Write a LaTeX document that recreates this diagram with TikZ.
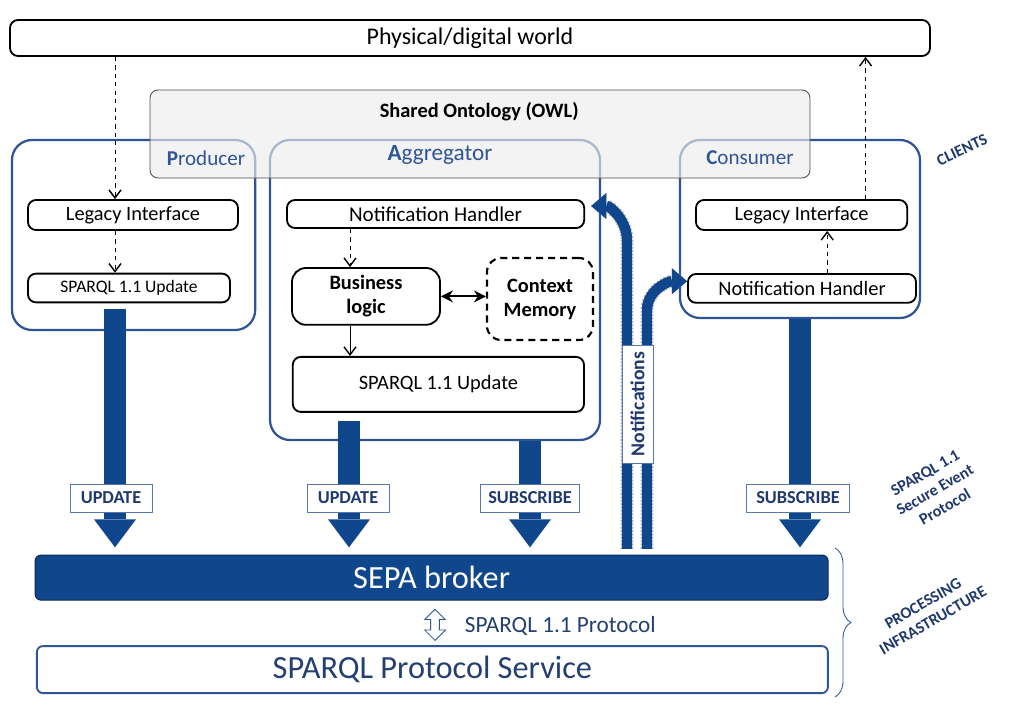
\documentclass[tikz,border=0pt]{standalone}
\usepackage{fontspec}
\setmainfont{Carlito}
\usetikzlibrary{positioning, arrows.meta, shapes, fit, decorations.pathreplacing}

\definecolor{clientblue}{RGB}{47,85,151}
\definecolor{brokerblue}{RGB}{16,70,140}
\definecolor{navy}{RGB}{31,56,110}
\definecolor{ontogray}{RGB}{236,236,236}

\begin{document}
\begin{tikzpicture}[
        x=1cm, y=-1cm,
        every node/.style={font=\fontsize{14.5}{16}\selectfont},
        box/.style={draw, line width=1.3pt, rounded corners=0.2cm, fill=white, align=center, inner sep=1pt},
        client/.style={draw=clientblue, line width=1.6pt, rounded corners=0.5cm},
        owner/.style={text=clientblue, font=\fontsize{15}{17}\selectfont},
        tag/.style={draw=clientblue!80, line width=0.6pt, fill=white, text=navy, minimum height=0.7cm, inner xsep=4pt, font=\fontsize{13}{15}\selectfont\bfseries},
        bigarrow/.style={brokerblue, line width=0.55cm, -{Triangle[width=1.05cm, length=0.7cm, line width=0pt]}},
        dasharrow/.style={dashed, line width=0.7pt, -{Straight Barb[length=2mm, width=3mm, line width=1pt]}},
        notif/.style={preaction={draw, gray!55, line width=0.32cm, dash pattern=on 1.2pt off 1.2pt}, brokerblue, line width=0.26cm, -{Triangle[width=0.65cm, length=0.38cm, line width=0pt]}},
        sidenote/.style={text=navy, align=center, font=\fontsize{11.5}{14}\selectfont\bfseries}
    ]

    % Rahmen
    \useasboundingbox (0,0) rectangle (25.6,17.725);

    % World
    \node[box, minimum width=23cm, minimum height=0.9cm, font=\fontsize{17}{19}\selectfont] (world) at (11.75, 0.95) {Physical/digital world};

    % Clients
    \node[client, minimum width=6.08cm, minimum height=4.75cm] (producer) at (3.34, 5.875) {};
    \node[client, minimum width=8.25cm, minimum height=7.5cm] (aggregator) at (10.875, 7.25) {};
    \node[client, minimum width=6cm, minimum height=4.45cm] (consumer) at (20.0, 5.725) {};

    % Shared ontology
    \node[draw=black!70, line width=0.6pt, fill=ontogray, fill opacity=0.65, rounded corners=0.2cm, minimum width=16.5cm, minimum height=2.2cm] (ontology) at (12.0, 3.35) {};
    \node[font=\fontsize{14.5}{16}\selectfont\bfseries] (ontotitle) at (11.98, 2.78) {Shared Ontology (OWL)};

    \node[owner] (prodname) at (5.15, 3.95) {{\bfseries P}roducer};
    \node[owner, font=\fontsize{16.5}{18}\selectfont] (aggname) at (11.0, 3.875) {{\bfseries A}ggregator};
    \node[owner] (consname) at (18.75, 3.95) {{\bfseries C}onsumer};

    % Producer
    \node[box, minimum width=5.25cm, minimum height=0.75cm] (prodlegacy) at (3.325, 5.375) {Legacy Interface};
    \node[box, minimum width=5.05cm, minimum height=0.72cm, font=\fontsize{12.5}{14}\selectfont] (prodsparql) at (3.225, 7.2) {SPARQL 1.1 Update};

    % Aggregator
    \node[box, minimum width=7.43cm, minimum height=0.7cm, font=\fontsize{15}{17}\selectfont] (aggnotif) at (10.89, 5.35) {Notification Handler};
    \node[box, rounded corners=0.35cm, minimum width=3.7cm, minimum height=1.42cm, font=\fontsize{14.5}{17}\selectfont\bfseries] (bizlogic) at (9.15, 7.41) {Business\\logic};
    \node[box, dash pattern=on 5pt off 3.5pt, line width=1.5pt, rounded corners=0.35cm, minimum width=2.65cm, minimum height=2.05cm, font=\fontsize{14.5}{17}\selectfont\bfseries] (context) at (13.5, 7.475) {Context\\Memory};
    \node[box, minimum width=7.28cm, minimum height=1.375cm] (aggsparql) at (10.96, 9.61) {SPARQL 1.1 Update};

    % Consumer
    \node[box, minimum width=5.28cm, minimum height=0.75cm] (conslegacy) at (20.04, 5.375) {Legacy Interface};
    \node[box, minimum width=5.7cm, minimum height=0.72cm] (consnotif) at (20.05, 7.21) {Notification Handler};

    % Internal arrows
    \coordinate (prodtap) at ([xshift=-0.45cm]prodlegacy.north);
    \draw[dasharrow] (world.south -| prodtap) -- (prodtap);
    \draw[dasharrow] (prodlegacy.south -| prodtap) -- (prodsparql.north -| prodtap);

    \coordinate (bizin) at ([xshift=-0.4cm]bizlogic.north);
    \draw[dasharrow] (aggnotif.south -| bizin) -- (bizin);
    \draw[line width=0.7pt, -{Straight Barb[length=2mm, width=3mm, line width=1pt]}] (bizlogic.south -| bizin) -- (aggsparql.north -| bizin);
    \draw[line width=1.3pt, {Stealth[length=3mm, width=3mm]}-{Stealth[length=3mm, width=3mm]}] (bizlogic.east) -- (bizlogic.east -| context.west);

    \coordinate (constap) at ([xshift=0.63cm]consnotif.north);
    \draw[dasharrow] (constap) -- (conslegacy.south -| constap);
    \coordinate (worldtap) at ([xshift=1.6cm]conslegacy.north);
    \draw[dasharrow] (worldtap) -- (world.south -| worldtap);

    % Broker and service
    \node[draw=brokerblue!60!black, line width=0.8pt, fill=brokerblue, rounded corners=0.15cm, text=white, minimum width=19.825cm, minimum height=1.125cm, font=\fontsize{23}{26}\selectfont] (broker) at (10.79, 14.44) {SEPA broker};
    \node[draw=clientblue, line width=1.3pt, fill=white, rounded corners=0.15cm, text=clientblue!75!black, minimum width=19.775cm, minimum height=1.175cm, font=\fontsize{23}{26}\selectfont] (service) at (10.81, 16.74) {SPARQL Protocol Service};

    % SEPA arrows
    \draw[bigarrow] ([xshift=-0.35cm, yshift=-0.15cm]prodsparql.south) -- ([xshift=-0.35cm, yshift=0.18cm]prodsparql.south |- broker.north);
    \draw[bigarrow] ([xshift=-2.235cm, yshift=-0.2cm]aggsparql.south) -- ([xshift=-2.235cm, yshift=0.18cm]aggsparql.south |- broker.north);
    \draw[bigarrow] ([xshift=2.375cm]aggregator.south) -- ([xshift=2.375cm, yshift=0.18cm]aggregator.south |- broker.north);
    \draw[bigarrow] (consumer.south) -- ([yshift=0.18cm]consumer.south |- broker.north);

    \node[tag, minimum width=2.05cm] (tagprod) at (2.775, 12.45) {UPDATE};
    \node[tag, minimum width=2.05cm] (tagagg) at (8.7, 12.45) {UPDATE};
    \node[tag, minimum width=2.475cm] (tagaggsub) at (13.25, 12.45) {SUBSCRIBE};
    \node[tag, minimum width=2.575cm] (tagcons) at (19.95, 12.45) {SUBSCRIBE};

    % Notifications
    \coordinate (notifA) at (15.675, 13.72);
    \coordinate (notifB) at (16.175, 13.72);
    \draw[notif] (notifA) -- (15.675, 6.0) to[out=90, in=0] ([xshift=0.15cm, yshift=0.2cm]aggnotif.east);
    \draw[notif] (notifB) -- (16.175, 7.75) to[out=90, in=180] ([yshift=0.18cm]consnotif.west);
    \node[tag, rotate=90, minimum width=2.95cm, minimum height=0.78cm, font=\fontsize{14}{16}\selectfont\bfseries] (notiflabel) at (15.94, 10.1) {Notifications};

    % SPARQL 1.1 Protocol
    \node[double arrow, draw=clientblue, line width=0.6pt, fill=white, rotate=90, minimum height=0.78cm, inner sep=2.8pt, double arrow head extend=0.15cm] (protoarrow) at (10.875, 15.62) {};
    \node[text=clientblue!75!black, anchor=west, font=\fontsize{16.5}{18}\selectfont] (protolabel) at (11.5, 15.65) {SPARQL 1.1 Protocol};

    % Brace
    \draw[clientblue, line width=0.6pt, decorate, decoration={brace, amplitude=0.4cm}] (20.875, 13.7) -- (20.875, 17.425);

    % Side notes
    \node[sidenote, rotate=25] (clients) at (24.05, 3.75) {CLIENTS};
    \node[sidenote, rotate=30] (protocolnote) at (23.375, 12.25) {SPARQL 1.1\\Secure Event\\Protocol};
    \node[sidenote, rotate=30] (infranote) at (23.2, 15.3) {PROCESSING\\INFRASTRUCTURE};

\end{tikzpicture}
\end{document}
